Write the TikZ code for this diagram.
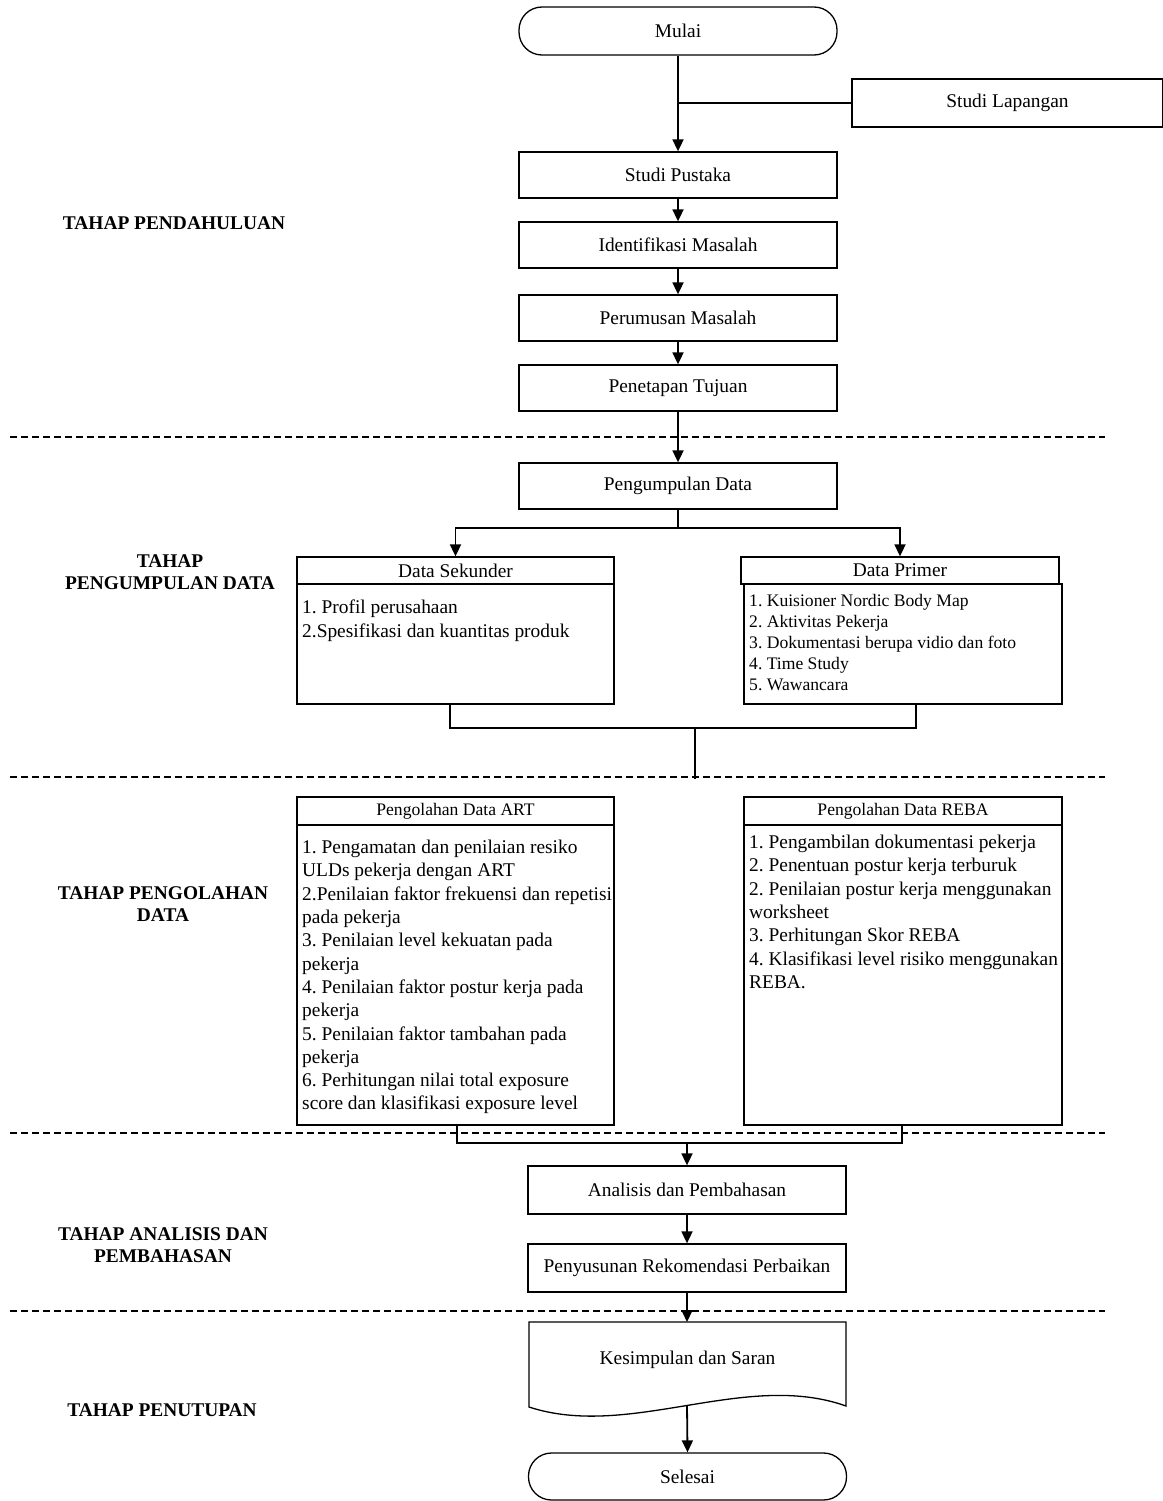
\documentclass[tikz,border=0pt]{standalone}
\usepackage{fontspec}
\setmainfont{Liberation Serif}
\usetikzlibrary{arrows.meta,calc}
\newcommand\fmain{\fontsize{19.4}{23.3}\selectfont}
\newcommand\fsmall{\fontsize{17.6}{21}\selectfont}
\newcommand\flab{\fontsize{19.4}{22}\selectfont\bfseries}
\frenchspacing
\begin{document}
\frenchspacing
\begin{tikzpicture}[x=1pt,y=-1pt,
 box/.style={draw, fill=white, line width=1.3pt, inner sep=0pt, font=\fmain, minimum width=318pt, minimum height=46pt},
 term/.style={box, rounded corners=23pt, minimum height=48pt},
 hdr/.style={box, minimum height=27pt},
 list/.style={align=left, inner sep=0pt, anchor=north west, font=\fmain},
 lab/.style={align=center, font=\flab, inner sep=0pt},
 arr/.style={line width=1.8pt, -{Triangle[length=12pt,width=11pt]}},
 conn/.style={line width=1.8pt},
 sep/.style={line width=1.2pt, dash pattern=on 7pt off 4pt}]
\useasboundingbox (0,0) rectangle (1162,1501);

% phase separators
\coordinate (s1a) at (10,437);  \coordinate (s1b) at (1105,437);
\coordinate (s2a) at (10,777);  \coordinate (s2b) at (1105,777);
\coordinate (s3a) at (10,1133); \coordinate (s3b) at (1105,1133);
\coordinate (s4a) at (10,1311); \coordinate (s4b) at (1105,1311);
\draw[sep] (s1a) -- (s1b);
\draw[sep] (s2a) -- (s2b);
\draw[sep] (s3a) -- (s3b);
\draw[sep] (s4a) -- (s4b);

% phase labels
\node[lab] (lab1) at (174,223) {TAHAP PENDAHULUAN};
\node[lab] (lab2) at (170,572) {TAHAP\\PENGUMPULAN DATA};
\node[lab] (lab3) at (163,904) {TAHAP PENGOLAHAN\\DATA};
\node[lab] (lab4) at (163,1245) {TAHAP ANALISIS DAN\\PEMBAHASAN};
\node[lab] (lab5) at (162,1410) {TAHAP PENUTUPAN};

% top part
\node[term] (mulai) at (678,31) {Mulai};
\node[box, minimum width=311pt, minimum height=48pt] (lap) at (1007.5,103) {Studi Lapangan};
\node[box] (pustaka) at (678,175) {Studi Pustaka};
\node[box] (ident) at (678,245) {Identifikasi Masalah};
\node[box] (rumus) at (678,318) {Perumusan Masalah};
\node[box] (tujuan) at (678,388) {Penetapan Tujuan};
\node[box] (kumpul) at (678,486) {Pengumpulan Data};

% data boxes
\node[hdr, minimum width=317pt] (sekh) at (455.5,570.5) {Data Sekunder};
\node[box, minimum width=317pt, minimum height=120pt] (sekb) at (455.5,644) {};
\node[list] (sekt) at (302,600) {1. Profil perusahaan\\2.Spesifikasi dan kuantitas produk};

\node[hdr] (primh) at (900,570.5) {Data Primer};
\node[box, minimum height=120pt] (primb) at (903,644) {};
\node[list, font=\fsmall] (primt) at (749,594) {1. Kuisioner Nordic Body Map\\2. Aktivitas Pekerja\\3. Dokumentasi berupa vidio dan foto\\4. Time Study\\5. Wawancara};

% processing boxes
\node[box, minimum width=317pt, minimum height=28pt, font=\fsmall] (arth) at (455.5,811) {Pengolahan Data ART};
\node[box, minimum width=317pt, minimum height=300pt] (artb) at (455.5,975) {};
\node[list] (artt) at (302,840) {1. Pengamatan dan penilaian resiko\\ULDs pekerja dengan ART\\2.Penilaian faktor frekuensi dan repetisi\\pada pekerja\\3. Penilaian level kekuatan pada\\pekerja\\4. Penilaian faktor postur kerja pada\\pekerja\\5. Penilaian faktor tambahan pada\\pekerja\\6. Perhitungan nilai total exposure\\score dan klasifikasi exposure level};

\node[box, minimum height=28pt, font=\fsmall] (rebah) at (903,811) {Pengolahan Data REBA};
\node[box, minimum height=300pt] (rebab) at (903,975) {};
\node[list] (rebat) at (749,835) {1. Pengambilan dokumentasi pekerja\\2. Penentuan postur kerja terburuk\\2. Penilaian postur kerja menggunakan\\worksheet\\3. Perhitungan Skor REBA\\4. Klasifikasi level risiko menggunakan\\REBA.};

% analysis
\node[box, minimum height=48pt] (ana) at (687,1190) {Analisis dan Pembahasan};
\node[box, minimum height=48pt] (peny) at (687,1268) {Penyusunan Rekomendasi Perbaikan};

% closing
\draw[line width=1.3pt, fill=white] (529,1322) -- (846,1322) -- (846,1406)
  .. controls (745,1370) and (630,1440) .. (529,1407) -- cycle;
\node[font=\fmain, inner sep=0pt] (kes) at (687.5,1360) {Kesimpulan dan Saran};
\coordinate (kestop) at (687,1322);
\coordinate (kesbot) at (687,1405);
\node[term, minimum height=47pt] (sel) at (687.5,1476.5) {Selesai};

% connectors
\draw[arr] (mulai.south) -- (pustaka.north);
\draw[conn] (lap.west) -- (lap.west -| mulai.south);
\draw[arr] (pustaka.south) -- (ident.north);
\draw[arr] (ident.south) -- (rumus.north);
\draw[arr] (rumus.south) -- (tujuan.north);
\draw[arr] (tujuan.south) -- (kumpul.north);
\coordinate (split) at (678,528);
\draw[conn] (kumpul.south) -- (split);
\draw[arr] (split) -| (sekh.north);
\draw[arr] (split) -| (primh.north);

\coordinate (jl) at (450,728);
\coordinate (jr) at (916,728);
\coordinate (jm) at (695,728);
\coordinate (jmd) at (695,779);
\draw[conn] (sekb.south -| jl) -- (jl) -- (jr) -- (primb.south -| jr);
\draw[conn] (jm) -- (jmd);

\coordinate (bl) at (457,1143);
\coordinate (br) at (902,1143);
\draw[conn] (artb.south -| bl) -- (bl) -- (br) -- (rebab.south -| br);
\draw[arr] (bl -| ana.north) -- (ana.north);
\draw[arr] (ana.south) -- (peny.north);
\draw[arr] (peny.south) -- (kestop);
\draw[arr] (kesbot) -- (sel.north);
\end{tikzpicture}
\end{document}
